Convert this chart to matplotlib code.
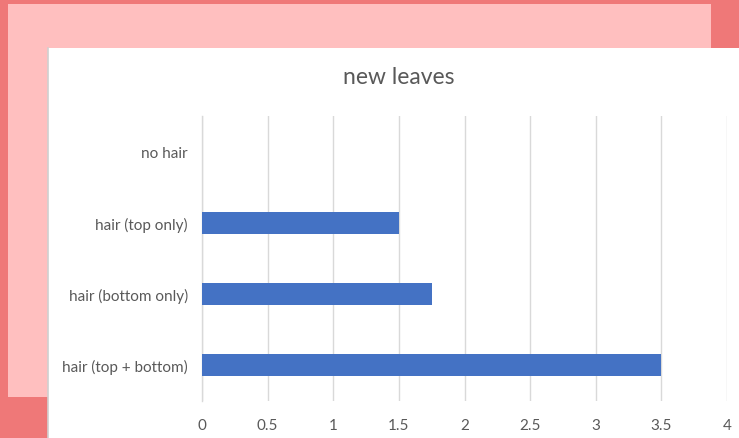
import matplotlib
matplotlib.use("Agg")
import matplotlib.pyplot as plt
from matplotlib.patches import Rectangle

categories = ["no hair", "hair (top only)", "hair (bottom only)", "hair (top + bottom)"]
values = [0, 1.5, 1.75, 3.5]
x_ticks = [0, 0.5, 1, 1.5, 2, 2.5, 3, 3.5, 4]
x_tick_labels = ["0", "0.5", "1", "1.5", "2", "2.5", "3", "3.5", "4"]

W, H = 739, 439
fig = plt.figure(figsize=(W / 100, H / 100), dpi=100)
fig.patch.set_facecolor("#EF7878")

# layered backdrop: light pink panel, then the white chart area
fig.patches.append(Rectangle((8 / W, 1 - 398 / H), (711 - 8) / W, (398 - 5) / H,
                             transform=fig.transFigure, facecolor="#FFBFBF",
                             edgecolor="none", zorder=0))
fig.patches.append(Rectangle((48 / W, 0), (W - 48) / W, (H - 49) / H,
                             transform=fig.transFigure, facecolor="white",
                             edgecolor="none", zorder=1))
fig.lines.append(plt.Line2D([48 / W, 48 / W], [0, (H - 49) / H],
                            transform=fig.transFigure, color="#D0D0D0",
                            linewidth=1.2, zorder=2))

ax = fig.add_axes([202 / W, 1 - 402 / H, (727 - 202) / W, (402 - 117) / H])
ax.set_facecolor("none")
ax.set_zorder(3)

ypos = list(range(len(categories)))
ax.barh(ypos, values, height=0.31, color="#4472C4", zorder=3)
ax.set_ylim(len(categories) - 0.5, -0.5)
ax.set_xlim(0, 4)
ax.set_yticks(ypos)
ax.set_yticklabels(categories)
ax.set_xticks(x_ticks)
ax.set_xticklabels(x_tick_labels)

ax.grid(axis="x", color="#D9D9D9", linewidth=1, zorder=0)
for side in ["top", "right", "bottom"]:
    ax.spines[side].set_visible(False)
ax.spines["left"].set_color("#D9D9D9")
ax.spines["left"].set_linewidth(1)
ax.tick_params(axis="both", length=0, labelsize=11, labelcolor="#595959")
ax.tick_params(axis="y", pad=10)
ax.tick_params(axis="x", pad=12)
for lbl in ax.get_xticklabels() + ax.get_yticklabels():
    lbl.set_fontfamily(["Lato", "DejaVu Sans"])

fig.text(399 / W, 1 - 78 / H, "new leaves", ha="center", va="center",
         fontsize=16.5, color="#595959", family=["Lato", "DejaVu Sans"], zorder=4)

fig.savefig("out.png", dpi=100, facecolor=fig.get_facecolor())
